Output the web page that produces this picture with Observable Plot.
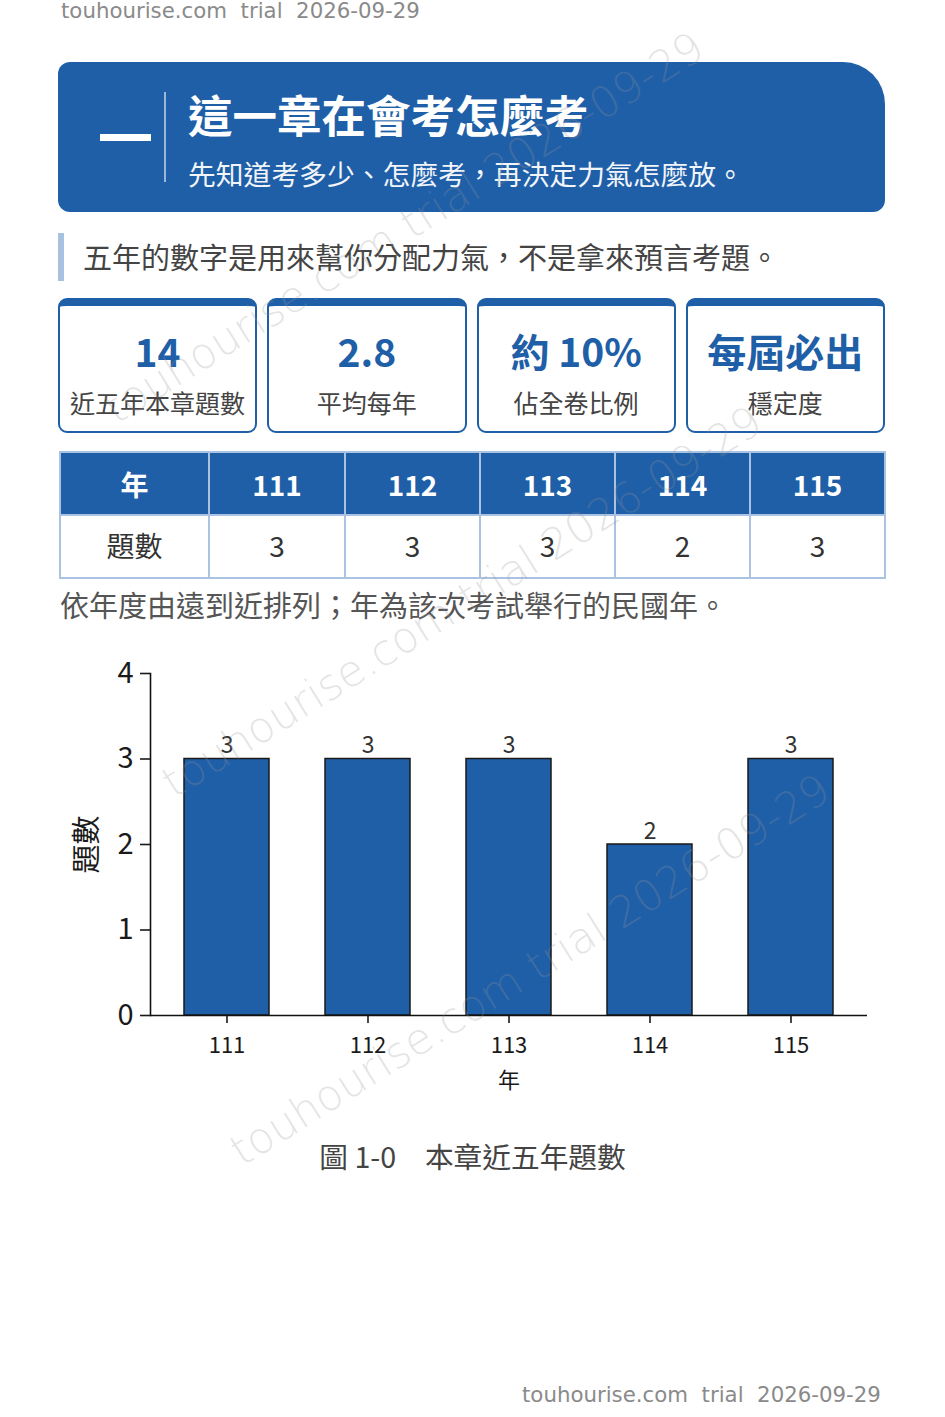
<!DOCTYPE html>
<html>
<head>
<meta charset="utf-8">
<script src="https://cdn.jsdelivr.net/npm/d3@7"></script>
<script src="https://cdn.jsdelivr.net/npm/@observablehq/plot@0.6"></script>
<style>
  html, body { margin: 0; padding: 0; background: #fff; }
  body { width: 945px; height: 1417px; position: relative; overflow: hidden;
         font-family: "Noto Sans CJK TC", "Noto Sans", sans-serif; }
  .abs { position: absolute; line-height: 1; white-space: pre; }
  .stamp { font-family: "DejaVu Sans", sans-serif; font-size: 21.3px; color: #8a8a8a; }
  .banner { position: absolute; left: 58px; top: 62px; width: 827px; height: 150px;
            background: #1f5fa8; border-radius: 12px 42px 12px 12px; }
  .dash { position: absolute; left: 100px; top: 134px; width: 51px; height: 7px; background: #fff; }
  .vline { position: absolute; left: 164px; top: 92px; width: 2px; height: 90px; background: rgba(255,255,255,0.55); }
  .title { color: #fff; font-weight: 700; font-size: 44.5px; left: 188px; top: 92px; }
  .subtitle { color: #f2f5fa; font-size: 27.8px; left: 188px; top: 160px; }
  .qbar { position: absolute; left: 58px; top: 233px; width: 6px; height: 48px; background: #a9c1e1; }
  .quote { color: #444; font-size: 29px; left: 83px; top: 242px; }
  .cards { position: absolute; left: 58px; top: 298px; width: 827px; height: 135px; display: flex; gap: 10px; }
  .card { position: relative; flex: 1; box-sizing: border-box; height: 135px; border: 2px solid #1f5fa8;
          border-top: 8px solid #1f5fa8; border-radius: 9px; background: #fff; }
  .card .val { position: absolute; left: 0; right: 0; text-align: center; top: 25px; font-size: 39px;
               font-weight: 700; color: #1f5fa8; line-height: 1; }
  .card .lab { position: absolute; left: 0; right: 0; text-align: center; top: 84px; font-size: 25px;
               color: #444; line-height: 1; }
  .tbl { position: absolute; left: 59px; top: 451px; width: 825px; border-collapse: collapse; table-layout: fixed; }
  .tbl td { border: 2px solid #aac3e3; height: 61px; padding: 0; text-align: center; vertical-align: middle;
            font-size: 28px; line-height: 1; }
  .tbl tr.head td { background: #1f5fa8; color: #fff; font-weight: 700; }
  .tbl tr.body td { background: #fff; color: #333; padding-bottom: 4px; height: 57px; }
  .note { color: #555; font-size: 29px; left: 60px; top: 590px; }
  .chart { position: absolute; left: 0; top: 640px; }
  .caption { color: #444; font-size: 28.7px; left: 0; width: 945px; text-align: center; top: 1142px; }
  .wm { position: absolute; font-family: "DejaVu Sans", sans-serif; font-weight: 200; font-size: 43px;
        color: rgba(150,150,150,0.26); white-space: pre; line-height: 1; pointer-events: none;
        transform: translate(-50%, -50%) rotate(-32deg); z-index: 10; }
</style>
</head>
<body>
<script>
// ---- data ----
const years = ["111", "112", "113", "114", "115"];
const counts = [3, 3, 3, 2, 3];
const yTicks = [0, 1, 2, 3, 4];
const cardValues = ["14", "2.8", "約 10%", "每屆必出"];
const cardLabels = ["近五年本章題數", "平均每年", "佔全卷比例", "穩定度"];
const tableHeadLabel = "年";
const tableRowLabel = "題數";
const stampText = "touhourise.com  trial  2026-09-29";
const wmText = "touhourise.com trial 2026-09-29";

const data = years.map((y, i) => ({year: y, count: counts[i]}));

function el(tag, cls, text, style) {
  const e = document.createElement(tag);
  if (cls) e.className = cls;
  if (text != null) e.textContent = text;
  if (style) Object.assign(e.style, style);
  document.body.appendChild(e);
  return e;
}

// header / footer stamps
el("div", "abs stamp", stampText, {left: "61px", top: "0px"});
el("div", "abs stamp", stampText, {left: "522px", top: "1384px"});

// banner
el("div", "banner");
el("div", "dash");
el("div", "vline");
el("div", "abs title", "這一章在會考怎麼考");
el("div", "abs subtitle", "先知道考多少、怎麼考，再決定力氣怎麼放。");

// quote
el("div", "qbar");
el("div", "abs quote", "五年的數字是用來幫你分配力氣，不是拿來預言考題。");

// cards
const cards = el("div", "cards");
cardValues.forEach((v, i) => {
  const c = document.createElement("div");
  c.className = "card";
  const a = document.createElement("div"); a.className = "val"; a.textContent = v;
  const b = document.createElement("div"); b.className = "lab"; b.textContent = cardLabels[i];
  c.appendChild(a); c.appendChild(b);
  cards.appendChild(c);
});

// table
const tbl = el("table", "tbl");
const cg = document.createElement("colgroup");
[149, 136, 135, 135, 135, 135].forEach(w => { const c = document.createElement("col"); c.style.width = w + "px"; cg.appendChild(c); });
tbl.appendChild(cg);
const tr1 = document.createElement("tr"); tr1.className = "head";
[tableHeadLabel, ...years].forEach(t => { const td = document.createElement("td"); td.textContent = t; tr1.appendChild(td); });
const tr2 = document.createElement("tr"); tr2.className = "body";
[tableRowLabel, ...counts.map(String)].forEach(t => { const td = document.createElement("td"); td.textContent = t; tr2.appendChild(td); });
tbl.appendChild(tr1); tbl.appendChild(tr2);

el("div", "abs note", "依年度由遠到近排列；年為該次考試舉行的民國年。");

// chart
const chartDiv = el("div", "chart");
const chart = Plot.plot({
  width: 945,
  height: 470,
  marginLeft: 150,
  marginRight: 78,
  marginTop: 33,
  marginBottom: 95,
  style: {fontFamily: "'Noto Sans CJK TC', sans-serif", color: "#1a1a1a", background: "transparent", overflow: "visible"},
  x: {type: "band", domain: years, paddingInner: 0.4, paddingOuter: 0.225, align: 0.5},
  y: {domain: [0, 4]},
  marks: [
    Plot.barY(data, {x: "year", y: "count", fill: "#1f5fa8", stroke: "#1a1a1a", strokeWidth: 1.5}),
    Plot.text(data, {x: "year", y: "count", text: d => String(d.count), dy: -6, lineAnchor: "bottom", fontSize: 23, fill: "#333"}),
    Plot.ruleY([0], {stroke: "#111", strokeWidth: 1.6}),
    Plot.frame({anchor: "left", stroke: "#111", strokeWidth: 1.6}),
    Plot.axisY({ticks: yTicks, tickFormat: d => String(d), tickSize: 10, tickPadding: 7, fontSize: 29,
                strokeWidth: 1.6, label: "題數", labelAnchor: "center", labelArrow: false, labelOffset: 74}),
    Plot.axisX({tickSize: 8, tickPadding: 14, fontSize: 22, strokeWidth: 1.6,
                label: "年", labelAnchor: "center", labelArrow: false, labelOffset: 72})
  ]
});
chartDiv.appendChild(chart);

el("div", "abs caption", "圖 1-0　本章近五年題數");

// watermarks
[[404, 228], [462, 602], [530, 970]].forEach(([x, y]) => {
  el("div", "wm", wmText, {left: x + "px", top: y + "px"});
});
</script>
</body>
</html>
